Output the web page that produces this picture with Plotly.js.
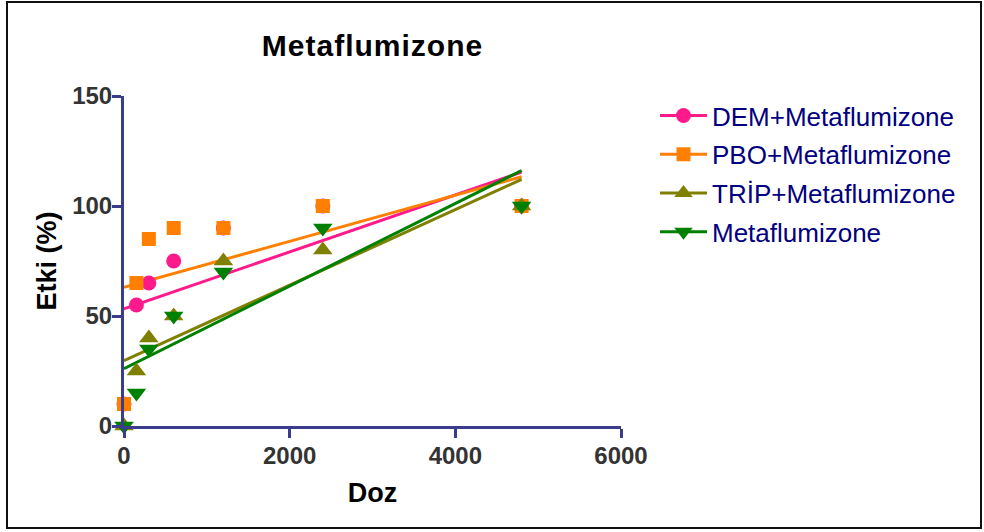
<!DOCTYPE html>
<html>
<head>
<meta charset="utf-8">
<script src="https://cdn.plot.ly/plotly-3.0.1.min.js"></script>
<style>
  html, body { margin: 0; padding: 0; background: #fff; }
  #wrap { position: relative; width: 984px; height: 532px; }
  #chart { position: absolute; left: 0; top: 0; width: 984px; height: 532px; }
  #frame { position: absolute; left: 6px; top: 1px; width: 972px; height: 524px;
           border: 2.5px solid #111; pointer-events: none; }
  .gtitle { letter-spacing: 1px; }
</style>
</head>
<body>
<div id="wrap"><div id="chart"></div><div id="frame"></div></div>
<script>
// Dose levels and measured effect (%) for each treatment
const doses = [0, 150, 300, 600, 1200, 2400, 4800];
const demEffect  = [10, 55, 65, 75, 90, 100, 100];
const pboEffect  = [10, 65, 85, 90, 90, 100, 100];
const tripEffect = [0, 25, 40, 50, 75, 80, 100];
const metaEffect = [0, 15, 35, 50, 70, 90, 100];

const seriesNames = ['DEM+Metaflumizone', 'PBO+Metaflumizone', 'TRİP+Metaflumizone', 'Metaflumizone'];
const seriesValues = [demEffect, pboEffect, tripEffect, metaEffect];
const seriesColors = ['#FF1A8C', '#FF8000', '#808000', '#008000'];
const seriesSymbols = ['circle', 'square', 'triangle-up', 'triangle-down'];
const symbolSizes = [15, 14, 17, 17];

const xTicks = [0, 2000, 4000, 6000];
const yTicks = [0, 50, 100, 150];

// Ordinary least-squares straight line through a series
function linearFit(x, y) {
  const n = x.length;
  const mx = x.reduce((a, b) => a + b, 0) / n;
  const my = y.reduce((a, b) => a + b, 0) / n;
  let sxx = 0, sxy = 0;
  for (let i = 0; i < n; i++) {
    sxx += (x[i] - mx) * (x[i] - mx);
    sxy += (x[i] - mx) * (y[i] - my);
  }
  const slope = sxy / sxx;
  return { slope: slope, intercept: my - slope * mx };
}

const axisColor = '#3C3C8C';
const xMin = Math.min(...doses), xMax = Math.max(...doses);
const traces = [];

// Legend entries (line + marker swatch only)
seriesNames.forEach((name, i) => {
  traces.push({
    type: 'scatter', mode: 'lines+markers', name: name,
    x: [null], y: [null], legendgroup: 'g' + i,
    line: { color: seriesColors[i], width: 3 },
    marker: { color: seriesColors[i], symbol: seriesSymbols[i], size: symbolSizes[i], line: { width: 0 } },
    hoverinfo: 'skip'
  });
});

// Fitted regression lines
seriesValues.forEach((vals, i) => {
  const f = linearFit(doses, vals);
  traces.push({
    type: 'scatter', mode: 'lines', showlegend: false, legendgroup: 'g' + i,
    x: [xMin, xMax], y: [f.intercept + f.slope * xMin, f.intercept + f.slope * xMax],
    line: { color: seriesColors[i], width: 3 }, cliponaxis: false
  });
});

// Observed points
seriesValues.forEach((vals, i) => {
  traces.push({
    type: 'scatter', mode: 'markers', showlegend: false, legendgroup: 'g' + i,
    name: seriesNames[i], x: doses, y: vals,
    marker: { color: seriesColors[i], symbol: seriesSymbols[i], size: symbolSizes[i], line: { width: 0 } },
    cliponaxis: false
  });
});

const tickFont = { family: 'Liberation Sans, Arial, sans-serif', size: 24, color: '#333333', weight: 'bold' };
const axTitleFont = { family: 'Liberation Sans, Arial, sans-serif', size: 27, color: '#000000', weight: 'bold' };

const layout = {
  width: 984, height: 532,
  margin: { l: 124, r: 363, t: 96, b: 106, pad: 0 },
  paper_bgcolor: '#ffffff', plot_bgcolor: '#ffffff',
  showlegend: true,
  title: {
    text: 'Metaflumizone',
    font: { family: 'Liberation Sans, Arial, sans-serif', size: 30, color: '#000000', weight: 'bold' },
    xref: 'paper', x: 0.5, xanchor: 'center',
    yref: 'container', y: 1 - 45 / 532, yanchor: 'middle'
  },
  xaxis: {
    range: [0, 6000], tickvals: xTicks, ticktext: xTicks.map(String),
    showline: true, linecolor: axisColor, linewidth: 3,
    ticks: 'outside', ticklen: 9, tickwidth: 3, tickcolor: axisColor,
    tickfont: tickFont, showgrid: false, zeroline: false, ticklabelstandoff: -3,
    title: { text: 'Doz', font: axTitleFont, standoff: 16 }
  },
  yaxis: {
    range: [0, 150], tickvals: yTicks, ticktext: yTicks.map(String),
    showline: true, linecolor: axisColor, linewidth: 3,
    ticks: 'outside', ticklen: 9, tickwidth: 3, tickcolor: axisColor,
    tickfont: tickFont, showgrid: false, zeroline: false, ticklabelstandoff: -5,
    title: { text: 'Etki (%)', font: axTitleFont, standoff: 8 }
  },
  legend: {
    x: (655 - 124) / 497, xanchor: 'left', y: 1.012, yanchor: 'top',
    font: { family: 'Liberation Sans, Arial, sans-serif', size: 26, color: '#000080' },
    bgcolor: 'rgba(0,0,0,0)', borderwidth: 0, tracegroupgap: 2, traceorder: 'grouped',
    itemwidth: 47
  }
};

Plotly.newPlot('chart', traces, layout, { staticPlot: true, displayModeBar: false });
</script>
</body>
</html>
